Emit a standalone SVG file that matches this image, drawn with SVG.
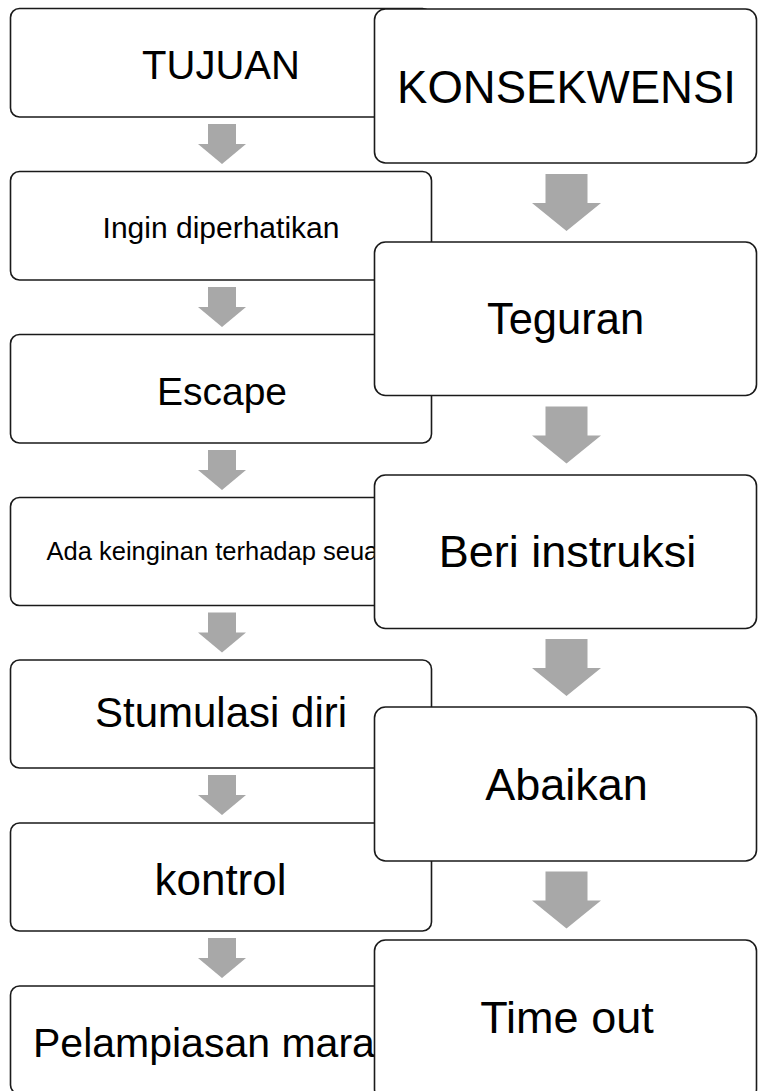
<svg xmlns="http://www.w3.org/2000/svg" width="758" height="1091" viewBox="0 0 758 1091">
  <style>
    .box { fill: #ffffff; stroke: #1a1a1a; stroke-width: 1.6; }
    .lbl { font-family: "Liberation Sans", Arial, Helvetica, sans-serif; fill: #000000; }
    .mid { text-anchor: middle; }
    .arrow { fill: #a8a8a8; stroke: none; }
  </style>
  <rect width="758" height="1091" fill="#ffffff"/>

  <!-- Left column: TUJUAN -->
  <g id="node-tujuan">
    <rect class="box" x="10.5" y="8.5" width="421" height="108.5" rx="9"/>
    <text class="lbl mid" x="221" y="79" font-size="40">TUJUAN</text>
  </g>
  <g id="node-ingin">
    <rect class="box" x="10.5" y="171.5" width="421" height="108.5" rx="9"/>
    <text class="lbl mid" x="221" y="238" font-size="30">Ingin diperhatikan</text>
  </g>
  <g id="node-escape">
    <rect class="box" x="10.5" y="334.5" width="421" height="108.5" rx="9"/>
    <text class="lbl mid" x="222" y="405" font-size="39">Escape</text>
  </g>
  <g id="node-ada">
    <rect class="box" x="10.5" y="497.5" width="421" height="108" rx="9"/>
    <text class="lbl" x="46.5" y="560" font-size="25.5">Ada keinginan terhadap seua</text>
  </g>
  <g id="node-stumulasi">
    <rect class="box" x="10.5" y="660" width="421" height="108" rx="9"/>
    <text class="lbl mid" x="221" y="727" font-size="42">Stumulasi diri</text>
  </g>
  <g id="node-kontrol">
    <rect class="box" x="10.5" y="823" width="421" height="108" rx="9"/>
    <text class="lbl mid" x="220.5" y="895" font-size="44">kontrol</text>
  </g>
  <g id="node-pelampiasan">
    <rect class="box" x="10.5" y="986" width="421" height="108" rx="9"/>
    <text class="lbl" x="33" y="1057" font-size="41">Pelampiasan mara</text>
  </g>

  <!-- Right column: KONSEKWENSI -->
  <g id="node-konsekwensi">
    <rect class="box" x="374.5" y="9" width="382" height="154" rx="11"/>
    <text class="lbl mid" x="566.5" y="103" font-size="45.5">KONSEKWENSI</text>
  </g>
  <g id="node-teguran">
    <rect class="box" x="374.5" y="242" width="382" height="153.5" rx="11"/>
    <text class="lbl mid" x="565.5" y="334" font-size="43.5">Teguran</text>
  </g>
  <g id="node-beri">
    <rect class="box" x="374.5" y="475" width="382" height="153.5" rx="11"/>
    <text class="lbl mid" x="567.5" y="567" font-size="45">Beri instruksi</text>
  </g>
  <g id="node-abaikan">
    <rect class="box" x="374.5" y="707" width="382" height="154" rx="11"/>
    <text class="lbl mid" x="566.5" y="800" font-size="45">Abaikan</text>
  </g>
  <g id="node-timeout">
    <rect class="box" x="374.5" y="940" width="382" height="160" rx="11"/>
    <text class="lbl mid" x="567" y="1033" font-size="45">Time out</text>
  </g>

  <!-- Connectors -->
  <g id="connectors">
    <defs>
      <path id="larr" d="M-14 0 H14 V20 H24 L0 40 L-24 20 H-14 Z"/>
      <path id="rarr" d="M-21 0 H21 V29 H34.5 L0 57 L-34.5 29 H-21 Z"/>
    </defs>
    <use href="#larr" class="arrow" x="222" y="124"/>
    <use href="#larr" class="arrow" x="222" y="287"/>
    <use href="#larr" class="arrow" x="222" y="450"/>
    <use href="#larr" class="arrow" x="222" y="612.5"/>
    <use href="#larr" class="arrow" x="222" y="775"/>
    <use href="#larr" class="arrow" x="222" y="938"/>

    <use href="#rarr" class="arrow" x="566.5" y="174"/>
    <use href="#rarr" class="arrow" x="566.5" y="406.5"/>
    <use href="#rarr" class="arrow" x="566.5" y="639"/>
    <use href="#rarr" class="arrow" x="566.5" y="871.5"/>
  </g>
</svg>
